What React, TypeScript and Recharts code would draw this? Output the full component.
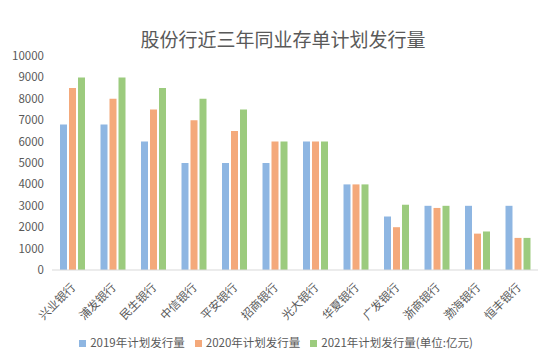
import React from "react";
import { BarChart, Bar, XAxis, YAxis, Legend } from "recharts";

const banks = [
  "兴业银行",
  "浦发银行",
  "民生银行",
  "中信银行",
  "平安银行",
  "招商银行",
  "光大银行",
  "华夏银行",
  "广发银行",
  "浙商银行",
  "渤海银行",
  "恒丰银行",
];
const plan2019 = [6800, 6800, 6000, 5000, 5000, 5000, 6000, 4000, 2500, 3000, 3000, 3000];
const plan2020 = [8500, 8000, 7500, 7000, 6500, 6000, 6000, 4000, 2000, 2900, 1700, 1500];
const plan2021 = [9000, 9000, 8500, 8000, 7500, 6000, 6000, 4000, 3050, 3000, 1800, 1500];
const yTicks = [0, 1000, 2000, 3000, 4000, 5000, 6000, 7000, 8000, 9000, 10000];

const data = banks.map((bank, i) => ({
  bank,
  y2019: plan2019[i],
  y2020: plan2020[i],
  y2021: plan2021[i],
}));

const FONT = '"Noto Sans CJK SC", "Noto Sans", sans-serif';

function AngledTick({ x, y, payload }: any) {
  return (
    <text
      x={x + 4}
      y={y + 10}
      transform={`rotate(-45 ${x + 4} ${y + 10})`}
      textAnchor="end"
      fill="#595959"
      fontSize={11.5}
      fontFamily={FONT}
    >
      {payload.value}
    </text>
  );
}

export default function App() {
  return (
    <div
      style={{
        position: "absolute",
        left: 0,
        top: 0,
        width: 550,
        height: 360,
        background: "#fff",
        fontFamily: FONT,
      }}
    >
      <div
        style={{
          position: "absolute",
          top: 25,
          left: 0,
          width: 566,
          textAlign: "center",
          fontSize: 19,
          color: "#595959",
        }}
      >
        股份行近三年同业存单计划发行量
      </div>
      <BarChart
        width={550}
        height={360}
        data={data}
        margin={{ top: 56, right: 12, bottom: 20, left: 0 }}
        barGap={2}
        barSize={7}
      >
        <XAxis
          dataKey="bank"
          interval={0}
          height={54}
          tick={<AngledTick />}
          tickLine={false}
          axisLine={{ stroke: "#d9d9d9" }}
        />
        <YAxis
          width={52}
          domain={[0, 10000]}
          ticks={yTicks}
          interval={0}
          axisLine={false}
          tickLine={false}
          tick={{ fill: "#595959", fontSize: 11.5, fontFamily: FONT }}
        />
        <Legend
          verticalAlign="bottom"
          iconType="square"
          iconSize={7}
          wrapperStyle={{ fontSize: 11.5, bottom: 10, left: 12 }}
          formatter={(value: string) => <span style={{ color: "#595959" }}>{value}</span>}
        />
        <Bar dataKey="y2019" name="2019年计划发行量" fill="#8EB6E2" isAnimationActive={false} />
        <Bar dataKey="y2020" name="2020年计划发行量" fill="#F4A97B" isAnimationActive={false} />
        <Bar dataKey="y2021" name="2021年计划发行量(单位:亿元)" fill="#9CCB7E" isAnimationActive={false} />
      </BarChart>
    </div>
  );
}
